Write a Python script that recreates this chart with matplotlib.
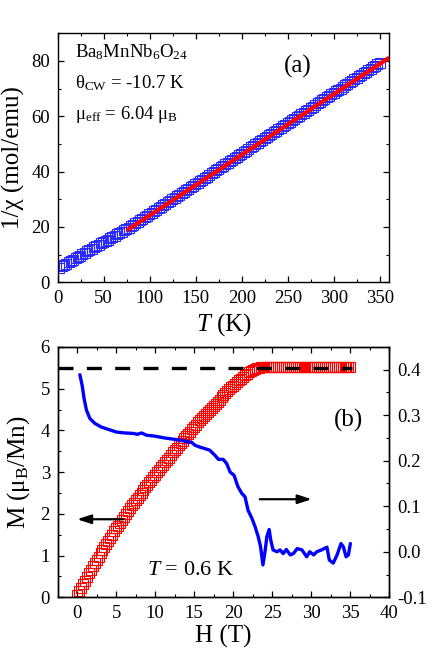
import matplotlib
matplotlib.use('Agg')
import matplotlib.pyplot as plt
from matplotlib.ticker import MultipleLocator, FormatStrFormatter

plt.rcParams['font.family'] = ['Liberation Serif', 'DejaVu Serif']
plt.rcParams['mathtext.fontset'] = 'custom'
plt.rcParams['mathtext.rm'] = 'Liberation Serif'
plt.rcParams['mathtext.it'] = 'Liberation Serif:italic'
plt.rcParams['mathtext.bf'] = 'Liberation Serif:bold'
plt.rcParams['axes.unicode_minus'] = False

# ---------------- data: panel (a) ----------------
T_K = [2, 4.5, 7, 9.5, 12, 14.5, 17, 19.5, 22, 24.5, 27, 29.5, 32, 34.5, 37, 39.5, 42, 44.5,
       47, 49.5, 52, 54.5, 57, 59.5, 62, 64.5, 67, 69.5, 72, 74.5, 77, 79.5, 82, 84.5, 87,
       89.5, 92, 94.5, 97, 99.5, 102, 104.5, 107, 109.5, 112, 114.5, 117, 119.5, 122, 124.5,
       127, 129.5, 132, 134.5, 137, 139.5, 142, 144.5, 147, 149.5, 152, 154.5, 157, 159.5,
       162, 164.5, 167, 169.5, 172, 174.5, 177, 179.5, 182, 184.5, 187, 189.5, 192, 194.5,
       197, 199.5, 202, 204.5, 207, 209.5, 212, 214.5, 217, 219.5, 222, 224.5, 227, 229.5,
       232, 234.5, 237, 239.5, 242, 244.5, 247, 249.5, 252, 254.5, 257, 259.5, 262, 264.5,
       267, 269.5, 272, 274.5, 277, 279.5, 282, 284.5, 287, 289.5, 292, 294.5, 297, 299.5,
       302, 304.5, 307, 309.5, 312, 314.5, 317, 319.5, 322, 324.5, 327, 329.5, 332, 334.5,
       337, 339.5, 342, 344.5, 347, 349.5]
inv_chi = [5.3, 5.75, 6.2, 6.7, 7.2, 7.7, 8.2, 8.65, 9.1, 9.6, 10.1, 10.6, 11.1, 11.6, 12.1,
           12.55, 13.0, 13.5, 14.0, 14.45, 14.9, 15.4, 15.9, 16.35, 16.8, 17.3, 17.8, 18.25,
           18.7, 19.15, 19.6, 20.2, 20.7, 21.3, 21.8, 22.4, 22.9, 23.5, 24.0, 24.6, 25.1,
           25.7, 26.2, 26.8, 27.3, 27.9, 28.4, 29.0, 29.5, 30.1, 30.6, 31.1, 31.6, 32.2,
           32.7, 33.3, 33.8, 34.4, 34.9, 35.5, 36.0, 36.6, 37.1, 37.7, 38.2, 38.8, 39.3,
           39.9, 40.4, 41.0, 41.5, 42.1, 42.6, 43.2, 43.7, 44.3, 44.8, 45.4, 45.9, 46.5,
           47.0, 47.6, 48.1, 48.7, 49.2, 49.8, 50.3, 50.9, 51.4, 52.0, 52.5, 53.1, 53.6,
           54.2, 54.7, 55.3, 55.8, 56.4, 56.9, 57.5, 58.0, 58.6, 59.1, 59.7, 60.2, 60.8,
           61.3, 61.9, 62.4, 63.0, 63.5, 64.1, 64.6, 65.2, 65.7, 66.3, 66.8, 67.4, 67.9,
           68.5, 69.0, 69.5, 70.0, 70.6, 71.1, 71.7, 72.2, 72.8, 73.3, 73.9, 74.4, 75.0,
           75.5, 76.1, 76.6, 77.2, 77.7, 78.3, 78.8, 79.4]
fit_T = [75, 360]
fit_inv = [18.7, 81.2]

# ---------------- data: panel (b) ----------------
H_M = [0.00, 0.25, 0.50, 0.75, 1.00, 1.25, 1.50, 1.75, 2.00, 2.25, 2.50, 2.75, 3.00, 3.25,
       3.50, 3.75, 4.00, 4.25, 4.50, 4.75, 5.00, 5.25, 5.50, 5.75, 6.00, 6.25, 6.50, 6.75,
       7.00, 7.25, 7.50, 7.75, 8.00, 8.25, 8.50, 8.75, 9.00, 9.25, 9.50, 9.75, 10.00, 10.25,
       10.50, 10.75, 11.00, 11.25, 11.50, 11.75, 12.00, 12.25, 12.50, 12.75, 13.00, 13.25,
       13.50, 13.75, 14.00, 14.25, 14.50, 14.75, 15.00, 15.25, 15.50, 15.75, 16.00, 16.25,
       16.50, 16.75, 17.00, 17.25, 17.50, 17.75, 18.00, 18.25, 18.50, 18.75, 19.00, 19.25,
       19.50, 19.75, 20.00, 20.25, 20.50, 20.75, 21.00, 21.25, 21.50, 21.75, 22.00, 22.25,
       22.50, 22.75, 23.00, 23.25, 23.50, 23.75, 24.00, 24.25, 24.50, 24.75, 25.00, 25.25,
       25.50, 25.75, 26.00, 26.25, 26.50, 26.75, 27.00, 27.25, 27.50, 27.75, 28.00, 28.25,
       28.50, 28.75, 29.00, 29.25, 29.50, 29.75, 30.00, 30.25, 30.50, 30.75, 31.00, 31.25,
       31.50, 31.75, 32.00, 32.25, 32.50, 32.75, 33.00, 33.25, 33.50, 33.75, 34.00, 34.25,
       34.50, 34.75, 35.00]
M_muB = [0.05, 0.14, 0.23, 0.31, 0.40, 0.48, 0.57, 0.65, 0.74, 0.82, 0.90, 0.97, 1.05, 1.13,
         1.20, 1.28, 1.35, 1.43, 1.50, 1.58, 1.65, 1.72, 1.79, 1.86, 1.93, 2.00, 2.07, 2.13,
         2.20, 2.26, 2.33, 2.39, 2.45, 2.51, 2.58, 2.64, 2.70, 2.76, 2.82, 2.88, 2.94, 3.00,
         3.06, 3.12, 3.18, 3.24, 3.29, 3.35, 3.41, 3.47, 3.52, 3.58, 3.64, 3.70, 3.75, 3.81,
         3.87, 3.92, 3.97, 4.03, 4.08, 4.13, 4.19, 4.24, 4.29, 4.34, 4.39, 4.44, 4.49, 4.54,
         4.59, 4.64, 4.69, 4.74, 4.79, 4.84, 4.89, 4.94, 4.98, 5.03, 5.07, 5.11, 5.16, 5.20,
         5.24, 5.28, 5.32, 5.35, 5.39, 5.42, 5.45, 5.47, 5.49, 5.50, 5.51, 5.51, 5.51, 5.51,
         5.51, 5.51, 5.51, 5.51, 5.51, 5.51, 5.51, 5.51, 5.51, 5.51, 5.51, 5.51, 5.51, 5.51,
         5.51, 5.51, 5.51, 5.51, 5.51, 5.51, 5.51, 5.51, 5.51, 5.51, 5.51, 5.51, 5.51, 5.51,
         5.51, 5.51, 5.51, 5.51, 5.51, 5.51, 5.51, 5.51, 5.51, 5.51, 5.51, 5.51, 5.51,
         5.51, 5.51]
M_sat = 5.5

H_d = [0.35, 0.64, 0.9, 1.2, 1.63, 2.27, 3.1, 3.97, 5.05, 6.1, 7.2, 7.7, 8.26, 8.9, 9.96,
       11.2, 12.5, 13.8, 14.7, 15.1, 15.7, 16.3, 17.0, 17.65, 18.1, 18.7, 19.15, 19.6,
       20.1, 20.6, 21.1, 21.5, 21.9, 22.4, 22.8, 23.2, 23.5, 23.8, 24.1, 24.3, 24.6, 24.8,
       25.1, 25.6, 26.0, 26.4, 26.8, 27.3, 27.7, 28.2, 28.8, 29.4, 29.8, 30.3, 30.7, 31.3,
       32.0, 32.3, 32.8, 33.3, 33.8, 34.1, 34.45, 34.75, 35.0]
dMdH = [0.389, 0.366, 0.336, 0.311, 0.293, 0.282, 0.274, 0.269, 0.263, 0.261, 0.260, 0.258,
        0.261, 0.256, 0.254, 0.250, 0.247, 0.243, 0.240, 0.234, 0.230, 0.227, 0.223, 0.212,
        0.203, 0.203, 0.194, 0.175, 0.168, 0.143, 0.128, 0.121, 0.091, 0.073, 0.055, 0.033,
        0.011, -0.029, 0.004, 0.033, 0.049, 0.026, 0.004, 0.0, 0.004, -0.004, 0.005, -0.007,
        -0.004, 0.007, 0.004, -0.011, 0.0, -0.007, 0.0, 0.004, 0.010, -0.018, -0.025,
        -0.007, 0.018, 0.011, -0.011, -0.007, 0.018]

# ---------------- figure ----------------
fig = plt.figure(figsize=(4.43, 6.64), dpi=100)
axA = fig.add_axes([0.130, 0.575, 0.749, 0.375])
axB = fig.add_axes([0.130, 0.1005, 0.749, 0.377])

tick_kw = dict(direction='in', labelsize=13.5, pad=5.5, width=0.9)

# panel (a)
axA.plot(T_K, inv_chi, ls='none', marker='s', ms=7.2, mfc='none', mec='#2a2aff',
         mew=0.8, zorder=2)
axA.plot(fit_T, fit_inv, color='#ff0000', lw=3.0, solid_capstyle='butt', zorder=3)
axA.set_xlim(0, 360)
axA.set_ylim(0, 90)
axA.xaxis.set_major_locator(MultipleLocator(50))
axA.xaxis.set_minor_locator(MultipleLocator(25))
axA.yaxis.set_major_locator(MultipleLocator(20))
axA.yaxis.set_minor_locator(MultipleLocator(10))
axA.tick_params(which='both', top=True, right=True, **tick_kw)
axA.tick_params(which='major', length=4)
axA.tick_params(which='minor', length=2.2, width=0.8)
axA.set_xlabel('$T$ (K)', fontsize=18)
axA.set_ylabel('1/χ (mol/emu)', fontsize=18)
axA.xaxis.set_label_coords(0.5, -0.118)
axA.yaxis.set_label_coords(-0.099, 0.5)
for s in axA.spines.values():
    s.set_linewidth(1.0)

axA.text(0.052, 0.905, 'Ba$_{8}$MnNb$_{6}$O$_{24}$', transform=axA.transAxes, fontsize=13.5,
         ha='left', va='baseline')
axA.text(0.052, 0.778, 'θ$_{\\mathrm{CW}}$ = -10.7 K', transform=axA.transAxes, fontsize=13.5,
         ha='left', va='baseline')
axA.text(0.052, 0.655, 'μ$_{\\mathrm{eff}}$ = 6.04 μ$_{\\mathrm{B}}$', transform=axA.transAxes,
         fontsize=13.5, ha='left', va='baseline')
axA.text(0.725, 0.865, '(a)', transform=axA.transAxes, fontsize=18, ha='center', va='center')

# panel (b)
axB.plot(H_M, M_muB, ls='none', marker='s', ms=6.8, mfc='none', mec='#ff0000',
         mew=0.8, zorder=2)
axB.hlines(M_sat, -2.5, 35.2, colors='black', linestyles=(0, (4.5, 4)), lw=2.4, zorder=3)
axB.set_xlim(-2.5, 40)
axB.set_ylim(0, 6)
axB.xaxis.set_major_locator(MultipleLocator(5))
axB.xaxis.set_minor_locator(MultipleLocator(2.5))
axB.yaxis.set_major_locator(MultipleLocator(1))
axB.yaxis.set_minor_locator(MultipleLocator(0.5))
axB.tick_params(which='both', top=True, right=False, **tick_kw)
axB.tick_params(which='major', length=4)
axB.tick_params(which='minor', length=2.2, width=0.8)
axB.set_xlabel('H (T)', fontsize=18)
axB.set_ylabel('M (μ$_{\\mathrm{B}}$/Mn)', fontsize=18)
axB.xaxis.set_label_coords(0.5, -0.112)
axB.yaxis.set_label_coords(-0.078, 0.5)
for s in axB.spines.values():
    s.set_linewidth(1.0)

axB2 = axB.twinx()
axB2.plot(H_d, dMdH, color='#0000ff', lw=2.4, solid_capstyle='round',
          solid_joinstyle='round', zorder=4)
axB2.set_ylim(-0.1, 0.45)
axB2.yaxis.set_major_locator(MultipleLocator(0.1))
axB2.yaxis.set_minor_locator(MultipleLocator(0.05))
axB2.yaxis.set_major_formatter(FormatStrFormatter('%.1f'))
axB2.tick_params(which='both', **tick_kw)
axB2.tick_params(which='major', length=4)
axB2.tick_params(which='minor', length=2.2, width=0.8)
for s in axB2.spines.values():
    s.set_linewidth(1.0)

arrow_kw = dict(arrowstyle='-|>,head_length=0.55,head_width=0.18', color='black',
                lw=1.6, mutation_scale=15, shrinkA=0, shrinkB=0)
axB.annotate('', xy=(0.0, 1.87), xytext=(5.9, 1.87), arrowprops=arrow_kw, zorder=5)
axB.annotate('', xy=(30.05, 2.35), xytext=(23.4, 2.35), arrowprops=arrow_kw, zorder=5)

axB.text(0.878, 0.708, '(b)', transform=axB.transAxes, fontsize=18, ha='center', va='center')
axB.text(0.268, 0.089, '$T$ = 0.6 K', transform=axB.transAxes, fontsize=16,
         ha='left', va='baseline')

fig.savefig('out.png', dpi=100)
